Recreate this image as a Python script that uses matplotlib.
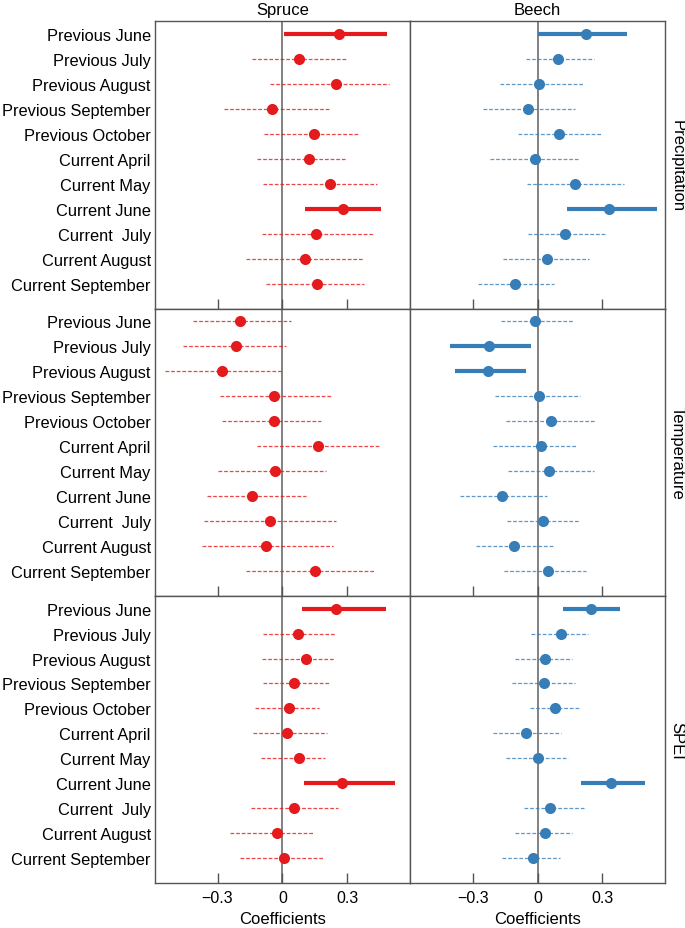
import numpy as np
import matplotlib
matplotlib.use('Agg')
import matplotlib.pyplot as plt

plt.rcParams['font.family'] = ['Liberation Sans', 'DejaVu Sans']

months = ['Previous June', 'Previous July', 'Previous August', 'Previous September',
          'Previous October', 'Current April', 'Current May', 'Current June',
          'Current  July', 'Current August', 'Current September']
species = ['Spruce', 'Beech']
climate = ['Precipitation', 'Temperature', 'SPEI']

# Spruce
spruce_prec = [0.263, 0.077, 0.247, -0.048, 0.147, 0.121, 0.218, 0.281, 0.156, 0.105, 0.161]
spruce_prec_lo = [0.009, -0.139, -0.057, -0.270, -0.085, -0.116, -0.088, 0.105, -0.096, -0.168, -0.076]
spruce_prec_hi = [0.484, 0.294, 0.491, 0.221, 0.348, 0.294, 0.437, 0.457, 0.417, 0.371, 0.379]
spruce_prec_sig = [1, 0, 0, 0, 0, 0, 0, 1, 0, 0, 0]

spruce_temp = [-0.196, -0.215, -0.280, -0.037, -0.040, 0.164, -0.034, -0.142, -0.059, -0.076, 0.150]
spruce_temp_lo = [-0.413, -0.459, -0.544, -0.289, -0.277, -0.119, -0.298, -0.348, -0.362, -0.372, -0.168]
spruce_temp_hi = [0.039, 0.017, 0.0, 0.224, 0.179, 0.453, 0.202, 0.108, 0.247, 0.233, 0.427]
spruce_temp_sig = [0, 0, 0, 0, 0, 0, 0, 0, 0, 0, 0]

spruce_spei = [0.250, 0.073, 0.111, 0.053, 0.032, 0.022, 0.077, 0.275, 0.054, -0.023, 0.009]
spruce_spei_lo = [0.090, -0.088, -0.096, -0.091, -0.125, -0.134, -0.097, 0.100, -0.144, -0.240, -0.196]
spruce_spei_hi = [0.481, 0.246, 0.243, 0.221, 0.170, 0.206, 0.195, 0.519, 0.258, 0.147, 0.187]
spruce_spei_sig = [1, 0, 0, 0, 0, 0, 0, 1, 0, 0, 0]

# Beech
beech_prec = [0.222, 0.094, 0.005, -0.046, 0.100, -0.014, 0.174, 0.331, 0.126, 0.043, -0.106]
beech_prec_lo = [0.003, -0.055, -0.172, -0.252, -0.089, -0.222, -0.048, 0.135, -0.046, -0.158, -0.274]
beech_prec_hi = [0.414, 0.260, 0.212, 0.171, 0.295, 0.186, 0.398, 0.552, 0.317, 0.238, 0.077]
beech_prec_sig = [1, 0, 0, 0, 0, 0, 0, 1, 0, 0, 0]

beech_temp = [-0.011, -0.225, -0.229, 0.005, 0.062, 0.014, 0.052, -0.163, 0.025, -0.111, 0.048]
beech_temp_lo = [-0.169, -0.406, -0.383, -0.197, -0.145, -0.205, -0.137, -0.360, -0.140, -0.286, -0.155]
beech_temp_hi = [0.163, -0.031, -0.055, 0.197, 0.265, 0.180, 0.260, 0.045, 0.194, 0.074, 0.226]
beech_temp_sig = [0, 1, 1, 0, 0, 0, 0, 0, 0, 0, 0]

beech_spei = [0.246, 0.109, 0.035, 0.029, 0.080, -0.052, 0.003, 0.338, 0.057, 0.035, -0.023]
beech_spei_lo = [0.117, -0.028, -0.102, -0.117, -0.034, -0.205, -0.148, 0.200, -0.063, -0.102, -0.166]
beech_spei_hi = [0.382, 0.234, 0.160, 0.174, 0.194, 0.108, 0.140, 0.497, 0.222, 0.160, 0.103]
beech_spei_sig = [1, 0, 0, 0, 0, 0, 0, 1, 0, 0, 0]

panels = {
    ('Spruce', 'Precipitation'): (spruce_prec, spruce_prec_lo, spruce_prec_hi, spruce_prec_sig),
    ('Spruce', 'Temperature'): (spruce_temp, spruce_temp_lo, spruce_temp_hi, spruce_temp_sig),
    ('Spruce', 'SPEI'): (spruce_spei, spruce_spei_lo, spruce_spei_hi, spruce_spei_sig),
    ('Beech', 'Precipitation'): (beech_prec, beech_prec_lo, beech_prec_hi, beech_prec_sig),
    ('Beech', 'Temperature'): (beech_temp, beech_temp_lo, beech_temp_hi, beech_temp_sig),
    ('Beech', 'SPEI'): (beech_spei, beech_spei_lo, beech_spei_hi, beech_spei_sig),
}
colors = {'Spruce': '#e41a1c', 'Beech': '#377eb8'}

fig, axes = plt.subplots(3, 2, figsize=(6.85, 9.29), dpi=100, sharex=True, sharey=True)
fig.subplots_adjust(left=0.226, right=0.971, top=0.976, bottom=0.048, hspace=0, wspace=0)

ypos = np.arange(len(months))

for i, clim in enumerate(climate):
    for j, sp in enumerate(species):
        ax = axes[i, j]
        est, lo, hi, sig = panels[(sp, clim)]
        c = colors[sp]
        ax.axvline(0, color='#777777', lw=1.3, zorder=1)
        for k in range(len(months)):
            if sig[k]:
                ax.plot([lo[k], hi[k]], [ypos[k], ypos[k]], color=c, lw=3, solid_capstyle='butt', zorder=2)
            else:
                ax.plot([lo[k], hi[k]], [ypos[k], ypos[k]], color=c, lw=0.9, alpha=0.8,
                        linestyle=(0, (3, 1.5)), zorder=2)
        ax.plot(est, ypos, 'o', color=c, markersize=8, zorder=3, markeredgewidth=0)
        ax.set_xlim(-0.59, 0.59)
        ax.set_ylim(len(months), -0.5)
        ax.set_xticks([-0.3, 0, 0.3])
        ax.set_xticklabels(['\u22120.3', '0', '0.3'])
        ax.tick_params(axis='x', direction='in', length=7, width=1, color='#555555',
                       labelsize=11.5, pad=5)
        ax.tick_params(axis='y', length=0, labelsize=11.8, pad=3)
        for s in ax.spines.values():
            s.set_color('#555555')
            s.set_linewidth(1)
        if i == 0:
            ax.set_title(sp, fontsize=12, pad=5)
        if i == 2:
            ax.set_xlabel('Coefficients', fontsize=12, labelpad=4)
        if j == 1:
            ax.text(1.047, 0.5, clim, transform=ax.transAxes, rotation=-90,
                    ha='center', va='center', fontsize=12)

axes[0, 0].set_yticks(ypos)
axes[0, 0].set_yticklabels(months)

fig.savefig('out.png', dpi=100)
